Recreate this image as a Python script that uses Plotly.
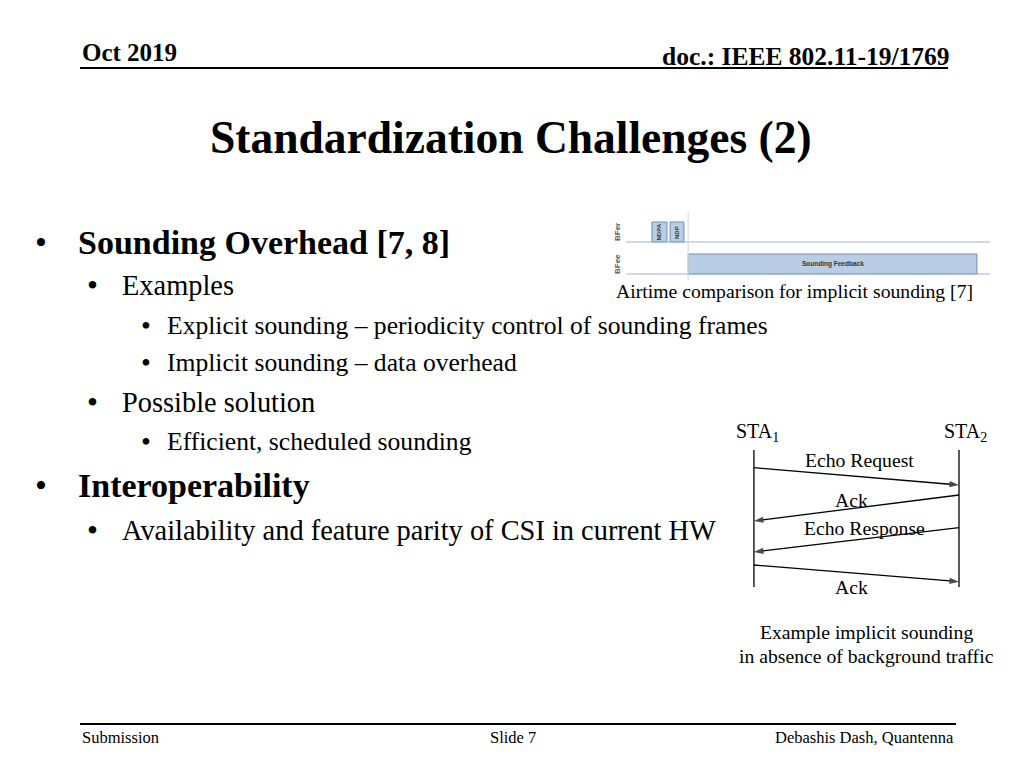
import plotly.graph_objects as go

# --- datos: diagrama de tiempos (sondeo implícito) ---
air_rows = ["BFee", "BFer"]                       # fila 0 / fila 1
air_frames = ["NDPA", "NDP", "Sounding Feedback"]
air_row = [1, 1, 0]
air_start = [10.9, 15.6, 20.3]
air_end = [14.8, 19.2, 95.3]

# --- datos: intercambio de mensajes entre estaciones ---
stations = ["STA<sub>1</sub>", "STA<sub>2</sub>"]
msg_labels = ["Echo Request", "Ack", "Echo Response", "Ack"]
msg_src = [0, 1, 1, 0]
msg_dst = [1, 0, 0, 1]
msg_send = [17.7, 45.0, 77.7, 115.0]
msg_recv = [35.0, 71.0, 102.0, 131.7]
lifeline_end = 137

# la página añade 8px de margen al body: la figura se ajusta a la ventana
OFF = 8
W, H = 1024 - 2 * OFF, 768 - 2 * OFF
SERIF = "Liberation Serif, Times New Roman, serif"


def px(x):
    return (x - OFF) / W


def py(y):
    return 1 - (y - OFF) / H


fig = go.Figure()
notes = []


def text(x, y, s, size, bold=False, anchor="left", color="black"):
    if bold:
        s = f"<b>{s}</b>"
    notes.append(dict(x=px(x), y=py(y), xref="paper", yref="paper", text=s,
                      showarrow=False, xanchor=anchor, yanchor="middle",
                      font=dict(family=SERIF, size=size, color=color)))


# Cabecera y pie
text(80, 52, "Oct 2019", 25, bold=True)
text(952, 57, "doc.: IEEE 802.11-19/1769", 25.5, bold=True, anchor="right")
text(511, 137, "Standardization Challenges (2)", 45.5, bold=True, anchor="center")
text(80, 737, "Submission", 16.5)
text(513, 737, "Slide 7", 16.5, anchor="center")
text(956, 737, "Debashis Dash, Quantenna", 16.5, anchor="right")

# Viñetas
bullets = [
    (1, 242, "Sounding Overhead [7, 8]", True),
    (2, 285, "Examples", False),
    (3, 325, "Explicit sounding – periodicity control of sounding frames", False),
    (3, 362, "Implicit sounding – data overhead", False),
    (2, 402, "Possible solution", False),
    (3, 441, "Efficient, scheduled sounding", False),
    (1, 486, "Interoperability", True),
    (2, 530, "Availability and feature parity of CSI in current HW", False),
]
levels = {1: (41, 76, 34), 2: (92, 120, 28.4), 3: (146, 165, 25.6)}
for lvl, y, s, b in bullets:
    bx, tx, size = levels[lvl]
    text(bx, y, "•", size * (1.0 if lvl == 1 else 1.1), anchor="center")
    text(tx, y, s, size, bold=b)

# Pies de figura
text(794, 291, "Airtime comparison for implicit sounding [7]", 19.7, anchor="center")
text(866, 632, "Example implicit sounding", 19.7, anchor="center")
text(866, 656, "in absence of background traffic", 19.7, anchor="center")

shapes = [
    dict(type="line", xref="paper", yref="paper", x0=px(80), x1=px(948),
         y0=py(68), y1=py(68), line=dict(color="black", width=2)),
    dict(type="line", xref="paper", yref="paper", x0=px(80), x1=px(956),
         y0=py(724), y1=py(724), line=dict(color="black", width=2)),
]

# --- diagrama de airtime (ejes x / y) ---
fig.add_trace(go.Bar(
    orientation="h", y=air_row,
    x=[e - s for s, e in zip(air_start, air_end)], base=air_start,
    width=0.625, marker=dict(color="#b9cde5", line=dict(color="#6f8cba", width=1)),
    hoverinfo="skip", showlegend=False, xaxis="x", yaxis="y"))

half = 0.3125
for r in (0, 1):
    shapes.append(dict(type="line", xref="x domain", yref="y", x0=0.042, x1=0.987,
                       y0=r - half, y1=r - half,
                       line=dict(color="#9fb1d3", width=1)))
    notes.append(dict(x=px(618), y=r, xref="paper", yref="y",
                      text=f"<b>{air_rows[r]}</b>", textangle=-90, showarrow=False,
                      font=dict(family="Arial", size=8, color="#595959")))
shapes.append(dict(type="line", xref="x", yref="y domain", x0=air_start[2],
                   x1=air_start[2], y0=0.0, y1=1.0,
                   line=dict(color="#d6d6d6", width=1)))

for name, r, s, e in zip(air_frames, air_row, air_start, air_end):
    vertical = (e - s) < 10
    notes.append(dict(x=(s + e) / 2, y=r, xref="x", yref="y", text=f"<b>{name}</b>",
                      textangle=-90 if vertical else 0, showarrow=False,
                      font=dict(family="Arial", size=6 if vertical else 6.5,
                                color="#333333")))

# --- diagrama de secuencia (ejes x2 / y2) ---
for i, st in enumerate(stations):
    fig.add_trace(go.Scatter(x=[i, i], y=[0, lifeline_end], mode="lines",
                             line=dict(color="black", width=1.3),
                             hoverinfo="skip", showlegend=False,
                             xaxis="x2", yaxis="y2"))
    notes.append(dict(x=i, y=-18, xref="x2", yref="y2", text=f"{st}",
                      showarrow=False, xshift=4 if i == 0 else 6,
                      font=dict(family=SERIF, size=20, color="black")))

label_x = [0.517, 0.478, 0.54, 0.478]
label_dy = [-16, -8, -12, 14]
for lab, s, d, ts, tr, lx, dy in zip(msg_labels, msg_src, msg_dst, msg_send,
                                     msg_recv, label_x, label_dy):
    fig.add_trace(go.Scatter(
        x=[s, d], y=[ts, tr], mode="lines+markers",
        line=dict(color="black", width=1.3),
        marker=dict(symbol="arrow", size=[0, 10], angleref="previous",
                    color="black", line=dict(width=0)),
        hoverinfo="skip", showlegend=False, xaxis="x2", yaxis="y2"))
    notes.append(dict(x=lx, y=(ts + tr) / 2 + dy, xref="x2", yref="y2", text=lab,
                      showarrow=False,
                      font=dict(family=SERIF, size=19.7, color="black")))

hidden = dict(visible=False, showgrid=False, zeroline=False, fixedrange=True)
fig.update_layout(
    width=W, height=H, margin=dict(l=0, r=0, t=0, b=0),
    paper_bgcolor="white", plot_bgcolor="white", showlegend=False,
    xaxis=dict(domain=[px(610), px(995)], range=[0, 100], **hidden),
    yaxis=dict(domain=[py(280), py(212)], range=[-0.5, 1.625], **hidden),
    xaxis2=dict(domain=[px(740), px(975)], range=[-0.068, 1.078], **hidden),
    yaxis2=dict(domain=[py(600), py(420)], range=[150, -30], **hidden),
    shapes=shapes, annotations=notes,
)

fig.write_html("out.html")
